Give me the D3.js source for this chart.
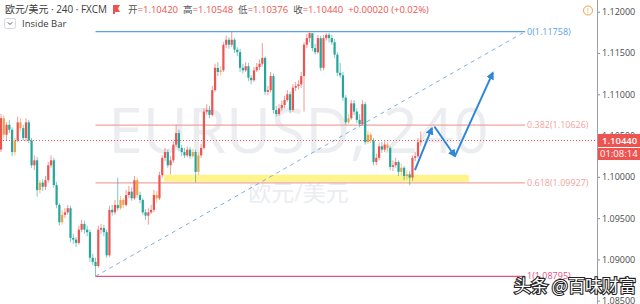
<!DOCTYPE html>
<html>
<head>
<meta charset="utf-8">
<script src="https://cdn.jsdelivr.net/npm/d3@7"></script>
<style>
  body { margin: 0; background: #fff; overflow: hidden; }
  svg { display: block; font-family: "Open Sans", "Noto Sans CJK SC", sans-serif; }
</style>
</head>
<body>
<div id="chart"></div>
<script>
// EUR/USD 240 candles (open of each bar = previous close)

const firstOpen = 1.1033;

const closes = [
  1.1071, 1.1051, 1.1063, 1.1057, 1.1030, 1.1044, 1.1066, 1.1059, 1.1047, 1.1066,
  1.1044, 1.1014, 1.1020, 1.0984, 1.0993, 1.0988, 1.0996, 1.1014, 1.1020, 1.0990,
  1.0966, 1.0945, 1.0954, 1.0957, 1.0962, 1.0926, 1.0924, 1.0920, 1.0936, 1.0943,
  1.0936, 1.0933, 1.0902, 1.0897, 1.0892, 1.0936, 1.0938, 1.0933, 1.0905, 1.0960,
  1.0957, 1.0966, 1.0962, 1.0972, 1.0966, 1.0978, 1.0982, 1.0974, 1.0996, 1.0978,
  1.0972, 1.0957, 1.0953, 1.0957, 1.0960, 1.0978, 1.0974, 1.1002, 1.1023, 1.1030,
  1.1014, 1.1020, 1.1039, 1.1053, 1.1035, 1.1030, 1.1026, 1.1033, 1.1025, 1.1030,
  1.1006, 1.1026, 1.1035, 1.1079, 1.1081, 1.1075, 1.1105, 1.1132, 1.1127, 1.1129,
  1.1160, 1.1166, 1.1160, 1.1166, 1.1154, 1.1151, 1.1132, 1.1129, 1.1134, 1.1120,
  1.1117, 1.1129, 1.1133, 1.1137, 1.1144, 1.1103, 1.1105, 1.1122, 1.1081, 1.1076,
  1.1083, 1.1087, 1.1093, 1.1100, 1.1081, 1.1108, 1.1110, 1.1112, 1.1122, 1.1160,
  1.1168, 1.1174, 1.1156, 1.1151, 1.1168, 1.1132, 1.1168, 1.1172, 1.1168, 1.1163,
  1.1148, 1.1126, 1.1123, 1.1096, 1.1066, 1.1071, 1.1089, 1.1079, 1.1069, 1.1064,
  1.1088, 1.1042, 1.1051, 1.1044, 1.1018, 1.1023, 1.1037, 1.1033, 1.1039, 1.1035,
  1.1012, 1.1014, 1.1018, 1.1006, 1.1011, 1.1001, 1.1003, 1.0999, 1.1023, 1.1025,
  1.1042, 1.1044
];

const highs = [
  1.1076, 1.1075, 1.1066, 1.1069, 1.1060, 1.1047, 1.1073, 1.1071, 1.1063, 1.1071,
  1.1069, 1.1047, 1.1026, 1.1024, 1.0996, 1.0997, 1.1001, 1.1018, 1.1026, 1.1023,
  1.0994, 1.0968, 1.0960, 1.0962, 1.0966, 1.0965, 1.0931, 1.0927, 1.0941, 1.0948,
  1.0947, 1.0941, 1.0936, 1.0907, 1.0902, 1.0941, 1.0943, 1.0942, 1.0936, 1.0965,
  1.0966, 1.0972, 1.0999, 1.0977, 1.0974, 1.0984, 1.0989, 1.0987, 1.1001, 1.0999,
  1.0982, 1.0974, 1.0961, 1.0962, 1.0966, 1.0984, 1.0983, 1.1006, 1.1026, 1.1035,
  1.1033, 1.1025, 1.1043, 1.1063, 1.1057, 1.1039, 1.1035, 1.1037, 1.1036, 1.1034,
  1.1033, 1.1030, 1.1040, 1.1083, 1.1088, 1.1086, 1.1110, 1.1137, 1.1139, 1.1134,
  1.1163, 1.1171, 1.1169, 1.11758, 1.1168, 1.1157, 1.1155, 1.1137, 1.1139, 1.1138,
  1.1123, 1.1133, 1.1138, 1.1142, 1.1162, 1.1146, 1.1110, 1.1127, 1.1125, 1.1086,
  1.1088, 1.1092, 1.1098, 1.1105, 1.1103, 1.1112, 1.1115, 1.1117, 1.1127, 1.1163,
  1.1173, 1.1175, 1.1172, 1.1161, 1.1172, 1.1171, 1.1172, 1.1174, 1.1174, 1.1172,
  1.1167, 1.1151, 1.1138, 1.1127, 1.1099, 1.1076, 1.1093, 1.1093, 1.1083, 1.1076,
  1.1093, 1.1091, 1.1056, 1.1054, 1.1047, 1.1028, 1.1041, 1.1042, 1.1043, 1.1042,
  1.1037, 1.1020, 1.1023, 1.1020, 1.1016, 1.1013, 1.1008, 1.1007, 1.1026, 1.1030,
  1.1047, 1.10548
];

const lows = [
  1.1030, 1.1047, 1.1044, 1.1053, 1.1025, 1.1026, 1.1042, 1.1055, 1.1044, 1.1043,
  1.1041, 1.1011, 1.1008, 1.0976, 1.0980, 1.0983, 1.0984, 1.0993, 1.1011, 1.0987,
  1.0962, 1.0941, 1.0942, 1.0950, 1.0954, 1.0921, 1.0919, 1.0915, 1.0918, 1.0933,
  1.0931, 1.0928, 1.0897, 1.0893, 1.08795, 1.0890, 1.0931, 1.0928, 1.0902, 1.0903,
  1.0953, 1.0954, 1.0959, 1.0960, 1.0962, 1.0964, 1.0974, 1.0971, 1.0972, 1.0974,
  1.0968, 1.0954, 1.0948, 1.0942, 1.0955, 1.0957, 1.0968, 1.0972, 1.0999, 1.1019,
  1.1011, 1.1003, 1.1017, 1.1036, 1.1031, 1.1025, 1.1023, 1.1024, 1.1022, 1.1023,
  1.0993, 1.1002, 1.1023, 1.1033, 1.1075, 1.1071, 1.1073, 1.1103, 1.1122, 1.1123,
  1.1127, 1.1156, 1.1155, 1.1157, 1.1150, 1.1146, 1.1127, 1.1125, 1.1127, 1.1116,
  1.1112, 1.1115, 1.1127, 1.1129, 1.1134, 1.1099, 1.1099, 1.1102, 1.1077, 1.1073,
  1.1074, 1.1080, 1.1083, 1.1091, 1.1077, 1.1079, 1.1104, 1.1106, 1.1108, 1.1079,
  1.1156, 1.1163, 1.1152, 1.1148, 1.1149, 1.1128, 1.1129, 1.1165, 1.1163, 1.1160,
  1.1144, 1.1122, 1.1120, 1.1092, 1.1063, 1.1064, 1.1069, 1.1075, 1.1065, 1.1060,
  1.1062, 1.1039, 1.1040, 1.1041, 1.1014, 1.1014, 1.1020, 1.1029, 1.1030, 1.1031,
  1.1008, 1.1007, 1.1011, 1.1001, 1.1002, 1.0996, 1.0997, 1.0990, 1.0995, 1.1019,
  1.1023, 1.10376
];

const priceTicks = [1.085, 1.09, 1.095, 1.10, 1.105, 1.11, 1.115, 1.12];

// Fibonacci retracement drawn from the swing low to the swing high
const fibLevels = [0, 0.382, 0.618, 1];
const fibLow = { bar: 34, price: 1.08795 };
const fibHigh = { bar: 188.5, price: 1.11758 };

// Yellow support zone
const zone = { from: 58.6, to: 168.3, top: 1.10025, bottom: 1.0994 };

// Blue forecast arrows (bar index, price)
const arrows = [
  [[148.9, 1.1008], [155.0, 1.1059]],
  [[155.9, 1.1061], [163.3, 1.1025]],
  [[163.3, 1.1025], [176.9, 1.1126]]
];

const lastPrice = 1.10440;
const header = { sym: '欧元/美元 · 240 · FXCM', o: '1.10420', h: '1.10548', l: '1.10376', c: '1.10440', chg: '+0.00020 (+0.02%)' };

const width = 640;
const height = 304;
const paneRight = 597;

const upColor = '#ef5350';
const downColor = '#26a69a';
const insideColor = '#f0a04a';

const svg = d3.select('#chart').append('svg')
  .attr('width', width)
  .attr('height', height);

const x = d3.scaleLinear().domain([0, 214.5]).range([1, 1 + 214.5 * 2.78]);
const y = d3.scaleLinear().domain([1.085, 1.12]).range([300.7, 11.7]);

const candles = closes.map((c, i) => ({
  i,
  open: i === 0 ? firstOpen : closes[i - 1],
  close: c,
  high: highs[i],
  low: lows[i]
}));

// watermark
const wm = svg.append('g').attr('fill', '#ebedf1');
wm.append('text')
  .attr('x', paneRight / 2).attr('y', 153)
  .attr('text-anchor', 'middle')
  .attr('font-size', 62)
  .text('EURUSD, 240');
wm.append('text')
  .attr('x', paneRight / 2).attr('y', 201)
  .attr('text-anchor', 'middle')
  .attr('font-size', 23)
  .text('欧元/美元');

// support zone
svg.append('rect')
  .attr('x', x(zone.from))
  .attr('y', y(zone.top))
  .attr('width', x(zone.to) - x(zone.from))
  .attr('height', y(zone.bottom) - y(zone.top))
  .attr('fill', '#fff176')
  .attr('opacity', 0.85);

// fib levels
const fibColors = ['#5aa2e6', '#f0a49c', '#f0a49c', '#e5507e'];
const fibRange = fibHigh.price - fibLow.price;
const fibGroup = svg.append('g');
fibLevels.forEach((lvl, k) => {
  const p = fibHigh.price - lvl * fibRange;
  fibGroup.append('line')
    .attr('x1', x(fibLow.bar)).attr('x2', x(fibHigh.bar))
    .attr('y1', y(p)).attr('y2', y(p))
    .attr('stroke', fibColors[k])
    .attr('stroke-width', 1.2);
  fibGroup.append('text')
    .attr('x', x(fibHigh.bar) + 2)
    .attr('y', y(p))
    .attr('dy', '0.35em')
    .attr('font-size', 9)
    .attr('fill', fibColors[k])
    .text(`${lvl}(${p.toFixed(5)})`);
});

// trend line of the fib tool
svg.append('line')
  .attr('x1', x(fibLow.bar)).attr('y1', y(fibLow.price))
  .attr('x2', x(fibHigh.bar)).attr('y2', y(fibHigh.price))
  .attr('stroke', '#7fb0e0')
  .attr('stroke-width', 1)
  .attr('stroke-dasharray', '4,4');

// candles
const candleGroup = svg.append('g');
const barColor = d => {
  const prev = candles[d.i - 1];
  if (prev && d.high < prev.high && d.low > prev.low) return insideColor;
  return d.close >= d.open ? upColor : downColor;
};

candleGroup.selectAll('line.wick')
  .data(candles)
  .enter()
  .append('line')
  .attr('x1', d => x(d.i)).attr('x2', d => x(d.i))
  .attr('y1', d => y(d.high)).attr('y2', d => y(d.low))
  .attr('stroke', barColor)
  .attr('stroke-width', 0.8)
  .attr('opacity', 0.75);

candleGroup.selectAll('rect.body')
  .data(candles)
  .enter()
  .append('rect')
  .attr('x', d => x(d.i) - 1.1)
  .attr('width', 2.2)
  .attr('y', d => y(Math.max(d.open, d.close)))
  .attr('height', d => Math.max(1, Math.abs(y(d.open) - y(d.close))))
  .attr('fill', barColor);

// current price line
svg.append('line')
  .attr('x1', 0).attr('x2', paneRight)
  .attr('y1', y(lastPrice)).attr('y2', y(lastPrice))
  .attr('stroke', upColor)
  .attr('stroke-width', 1)
  .attr('stroke-dasharray', '1,2');

// forecast arrows
const defs = svg.append('defs');
defs.append('marker')
  .attr('id', 'head')
  .attr('viewBox', '0 0 10 10')
  .attr('refX', 8).attr('refY', 5)
  .attr('markerWidth', 4).attr('markerHeight', 4)
  .attr('orient', 'auto')
  .append('path')
  .attr('d', 'M0,0 L10,5 L0,10 z')
  .attr('fill', '#2f86d8');

const arrowLine = d3.line().x(d => x(d[0])).y(d => y(d[1]));
svg.append('g').selectAll('path')
  .data(arrows)
  .enter()
  .append('path')
  .attr('d', arrowLine)
  .attr('fill', 'none')
  .attr('stroke', '#2f86d8')
  .attr('stroke-width', 2)
  .attr('marker-end', 'url(#head)');

// price axis
const axisG = svg.append('g')
  .attr('transform', `translate(${paneRight},0)`)
  .call(d3.axisRight(y).tickValues(priceTicks).tickFormat(d3.format('.5f')).tickSize(3).tickPadding(2));
axisG.select('.domain').remove();
axisG.selectAll('line').attr('stroke', '#8a8e99');
axisG.selectAll('text').attr('fill', '#4a4a4a').attr('font-size', 9)
  .attr('font-family', '"Open Sans", sans-serif');
svg.append('line')
  .attr('x1', paneRight + 0.5).attr('x2', paneRight + 0.5)
  .attr('y1', 0).attr('y2', height)
  .attr('stroke', '#9a9ea8');

// last price labels
const ly = y(lastPrice);
svg.append('rect').attr('x', paneRight + 1).attr('y', ly - 6.5).attr('width', width - paneRight).attr('height', 13).attr('fill', upColor);
svg.append('text').attr('x', paneRight + 5).attr('y', ly).attr('dy', '0.36em')
  .attr('fill', '#fff').attr('font-size', 9.5).attr('font-weight', 600).text(d3.format('.5f')(lastPrice));
svg.append('rect').attr('x', paneRight + 1).attr('y', ly + 7.5).attr('width', width - paneRight).attr('height', 12).attr('fill', upColor);
svg.append('text').attr('x', paneRight + 3).attr('y', ly + 13.5).attr('dy', '0.36em')
  .attr('fill', '#fff').attr('font-size', 9.5).text('01:08:14');

// alert icon
svg.append('circle').attr('cx', 588).attr('cy', 10.5).attr('r', 4.5)
  .attr('fill', '#fff').attr('stroke', '#f0a04a').attr('stroke-width', 1);
svg.append('text').attr('x', 588).attr('y', 10.5).attr('dy', '0.35em').attr('text-anchor', 'middle')
  .attr('font-size', 7).attr('fill', '#f0a04a').text('!');

// legend header
svg.append('text').attr('x', 5).attr('y', 13)
  .attr('font-size', 10.5).attr('fill', '#3a3a3a')
  .attr('textLength', 102).attr('lengthAdjust', 'spacingAndGlyphs')
  .text(header.sym);
svg.append('path').attr('d', 'M113,5 h7 l-2,3.5 l2,3.5 h-5 v2 h-2 z').attr('fill', upColor);

const ohlc = svg.append('text').attr('x', 128).attr('y', 13).attr('font-size', 9.5);
[['开', header.o], ['高', header.h], ['低', header.l], ['收', header.c]].forEach(([k, v], n) => {
  ohlc.append('tspan').attr('fill', '#555').attr('dx', n ? 5 : 0).text(k);
  ohlc.append('tspan').attr('fill', upColor).text('=' + v);
});
ohlc.append('tspan').attr('fill', upColor).attr('dx', 5).text(header.chg);

// indicator row
svg.append('rect').attr('x', 4.5).attr('y', 18.5).attr('width', 11).attr('height', 10).attr('rx', 2)
  .attr('fill', '#fff').attr('stroke', '#d6d8de');
svg.append('path').attr('d', 'M7.8,22.3 l2.2,2.2 l2.2,-2.2').attr('fill', 'none').attr('stroke', '#555').attr('stroke-width', 1);
svg.append('text').attr('x', 22).attr('y', 27).attr('font-size', 9.5).attr('fill', '#3a3a3a').text('Inside Bar');

// site watermark
svg.append('text').attr('x', 514).attr('y', 292)
  .attr('font-size', 17)
  .attr('font-family', '"Noto Sans CJK SC", sans-serif')
  .attr('fill', '#fff')
  .attr('stroke', '#222')
  .attr('stroke-width', 2.2)
  .attr('paint-order', 'stroke')
  .text('头条 @百味财富');
</script>
</body>
</html>
